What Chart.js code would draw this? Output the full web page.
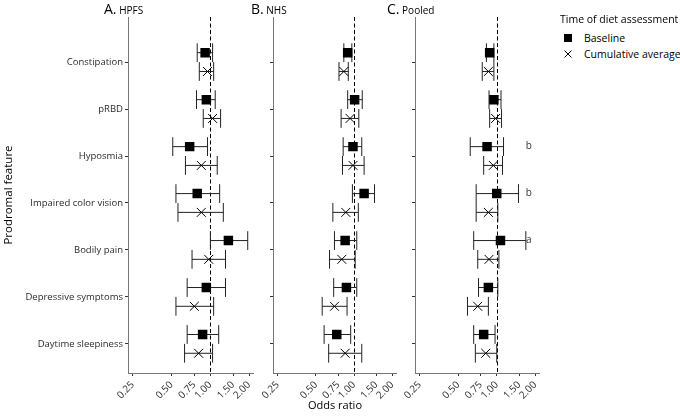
<!DOCTYPE html>
<html>
<head>
<meta charset="utf-8">
<script src="https://cdn.jsdelivr.net/npm/chart.js@4.4.1/dist/chart.umd.min.js"></script>
<style>
  body { margin: 0; background: #fff; font-family: "Open Sans", sans-serif; }
  #wrap { position: relative; width: 680px; height: 417px; overflow: hidden; background: #fff; }
  canvas { position: absolute; top: 0; }
  .ptitle { position: absolute; top: 0; font-size: 14px; line-height: 17px; color: #000; white-space: nowrap; }
  .ptitle span { font-size: 10px; }
  .lg { position: absolute; font-size: 10.5px; line-height: 14px; color: #000; white-space: nowrap; }
  #xtitle { position: absolute; left: 285px; width: 100px; top: 398px; text-align: center; font-size: 11px; line-height: 14px; color: #000; }
</style>
</head>
<body>
<div id="wrap">
  <canvas id="hpfs" width="261" height="417" style="left:0px"></canvas>
  <canvas id="nhs" width="146" height="417" style="left:258px"></canvas>
  <canvas id="pooled" width="147" height="417" style="left:400px"></canvas>

  <div class="ptitle" style="left:104px">A.<span> HPFS</span></div>
  <div class="ptitle" style="left:251px">B.<span> NHS</span></div>
  <div class="ptitle" style="left:387px">C.<span> Pooled</span></div>

  <div class="lg" style="left:560px; top:12px">Time of diet assessment</div>
  <svg style="position:absolute; left:562px; top:32px" width="12" height="30">
    <rect x="2" y="2" width="8" height="8" fill="#000"></rect>
    <path d="M2.5 18.5 L9.5 25.5 M9.5 18.5 L2.5 25.5" stroke="#000" stroke-width="1" fill="none"></path>
  </svg>
  <div class="lg" style="left:584px; top:31px">Baseline</div>
  <div class="lg" style="left:584px; top:47px">Cumulative average</div>

  <div id="xtitle">Odds ratio</div>
</div>

<script>
// categories, top to bottom
const features = ['Constipation', 'pRBD', 'Hyposmia', 'Impaired color vision', 'Bodily pain', 'Depressive symptoms', 'Daytime sleepiness'];
const xTicks = [0.25, 0.5, 0.75, 1, 1.5, 2];

// A. HPFS
const hpfsBase   = [0.91, 0.93, 0.69, 0.79, 1.38, 0.93, 0.87];
const hpfsBaseLo = [0.79, 0.78, 0.51, 0.54, 1.00, 0.66, 0.66];
const hpfsBaseHi = [1.04, 1.09, 0.95, 1.18, 1.95, 1.31, 1.16];
const hpfsCum    = [0.95, 1.04, 0.85, 0.85, 0.97, 0.75, 0.81];
const hpfsCumLo  = [0.82, 0.88, 0.64, 0.56, 0.72, 0.54, 0.63];
const hpfsCumHi  = [1.06, 1.20, 1.13, 1.26, 1.31, 1.06, 1.04];

// B. NHS
const nhsBase   = [0.89, 1.01, 0.98, 1.20, 0.85, 0.87, 0.73];
const nhsBaseLo = [0.83, 0.89, 0.82, 0.97, 0.70, 0.69, 0.58];
const nhsBaseHi = [0.96, 1.16, 1.15, 1.45, 1.05, 1.05, 0.94];
const nhsCum    = [0.83, 0.93, 0.98, 0.86, 0.80, 0.70, 0.85];
const nhsCumLo  = [0.76, 0.79, 0.81, 0.68, 0.64, 0.56, 0.63];
const nhsCumHi  = [0.90, 1.09, 1.20, 1.08, 1.02, 0.88, 1.15];

// C. Pooled
const pooledBase   = [0.88, 0.95, 0.84, 1.00, 1.07, 0.86, 0.79];
const pooledBaseLo = [0.83, 0.87, 0.62, 0.69, 0.66, 0.72, 0.66];
const pooledBaseHi = [0.95, 1.08, 1.13, 1.48, 1.69, 1.02, 0.97];
const pooledCum    = [0.86, 0.98, 0.94, 0.86, 0.87, 0.71, 0.82];
const pooledCumLo  = [0.77, 0.88, 0.79, 0.69, 0.71, 0.59, 0.68];
const pooledCumHi  = [0.95, 1.09, 1.11, 1.02, 1.04, 0.86, 1.00];
const pooledNotes  = ['', '', 'b', 'b', 'a', '', ''];

const FONT = '"Open Sans", sans-serif';
const DODGE = 0.2; // vertical offset of the two estimates per feature

// dashed line at OR = 1, error bars with caps, and note letters
const forestPlugin = {
    id: 'forest',
    beforeDatasetsDraw(chart, args, opts) {
        const { ctx, chartArea, scales: { x, y } } = chart;
        ctx.save();

        const x1 = Math.round(x.getPixelForValue(1)) + 0.5;
        ctx.strokeStyle = '#000';
        ctx.lineWidth = 1;
        ctx.setLineDash([4, 2.5]);
        ctx.beginPath();
        ctx.moveTo(x1, chartArea.top);
        ctx.lineTo(x1, chartArea.bottom);
        ctx.stroke();
        ctx.setLineDash([]);

        ctx.strokeStyle = '#222';
        chart.data.datasets.forEach(ds => {
            ds.data.forEach((p, i) => {
                const xl = x.getPixelForValue(ds.lo[i]);
                const xh = x.getPixelForValue(ds.hi[i]);
                const yc = y.getPixelForValue(p.y);
                const yt = y.getPixelForValue(p.y - DODGE);
                const yb = y.getPixelForValue(p.y + DODGE);
                ctx.beginPath();
                ctx.moveTo(xl, yc); ctx.lineTo(xh, yc);
                ctx.moveTo(xl, yt); ctx.lineTo(xl, yb);
                ctx.moveTo(xh, yt); ctx.lineTo(xh, yb);
                ctx.stroke();
            });
        });

        if (opts.notes) {
            ctx.fillStyle = '#333';
            ctx.font = '10px ' + FONT;
            ctx.textAlign = 'center';
            ctx.textBaseline = 'middle';
            opts.notes.forEach((t, i) => {
                if (t) ctx.fillText(t, x.getPixelForValue(1.78), y.getPixelForValue(i - DODGE));
            });
        }
        ctx.restore();
    }
};

function makePanel(id, base, baseLo, baseHi, cum, cumLo, cumHi, showLabels, notes) {
    const ctx = document.getElementById(id).getContext('2d');
    return new Chart(ctx, {
        type: 'scatter',
        data: {
            datasets: [{
                label: 'Baseline',
                data: base.map((v, i) => ({ x: v, y: i - DODGE })),
                lo: baseLo, hi: baseHi,
                pointStyle: 'rect',
                pointRadius: 6.7,
                backgroundColor: '#000',
                borderColor: '#000',
                borderWidth: 0
            }, {
                label: 'Cumulative average',
                data: cum.map((v, i) => ({ x: v, y: i + DODGE })),
                lo: cumLo, hi: cumHi,
                pointStyle: 'crossRot',
                pointRadius: 6.3,
                backgroundColor: '#000',
                borderColor: '#000',
                borderWidth: 1
            }]
        },
        options: {
            responsive: false,
            animation: false,
            events: [],
            layout: { padding: { top: 17, right: 5, left: 0, bottom: 0 } },
            plugins: {
                legend: { display: false },
                tooltip: { enabled: false },
                forest: { notes: notes }
            },
            scales: {
                x: {
                    type: 'logarithmic',
                    min: 0.229,
                    max: 2.17,
                    afterBuildTicks: s => { s.ticks = xTicks.map(v => ({ value: v })); },
                    afterFit: s => { s.height = 44; },
                    ticks: {
                        autoSkip: false,
                        minRotation: 45,
                        maxRotation: 45,
                        padding: 3,
                        color: '#333',
                        font: { family: FONT, size: 10 },
                        callback: v => Number(v).toFixed(2)
                    },
                    grid: { drawOnChartArea: false, drawTicks: true, tickLength: 3, color: '#333' },
                    border: { color: '#777', width: 1 }
                },
                y: {
                    type: 'linear',
                    reverse: true,
                    min: -0.96,
                    max: 6.62,
                    afterBuildTicks: s => { s.ticks = features.map((f, i) => ({ value: i })); },
                    afterFit: s => { s.width = showLabels ? 128 : 15; s.paddingTop = 0; s.paddingBottom = 0; },
                    ticks: {
                        display: showLabels,
                        padding: 2,
                        color: '#2b2b2b',
                        font: { family: FONT, size: 9.5 },
                        callback: v => features[v]
                    },
                    title: {
                        display: showLabels,
                        text: 'Prodromal feature',
                        color: '#000',
                        padding: { top: 2, bottom: 0 },
                        font: { family: FONT, size: 11.5 }
                    },
                    grid: { drawOnChartArea: false, drawTicks: true, tickLength: 3, color: '#333' },
                    border: { color: '#777', width: 1 }
                }
            }
        },
        plugins: [forestPlugin]
    });
}

makePanel('hpfs', hpfsBase, hpfsBaseLo, hpfsBaseHi, hpfsCum, hpfsCumLo, hpfsCumHi, true, null);
makePanel('nhs', nhsBase, nhsBaseLo, nhsBaseHi, nhsCum, nhsCumLo, nhsCumHi, false, null);
makePanel('pooled', pooledBase, pooledBaseLo, pooledBaseHi, pooledCum, pooledCumLo, pooledCumHi, false, pooledNotes);
</script>
</body>
</html>
